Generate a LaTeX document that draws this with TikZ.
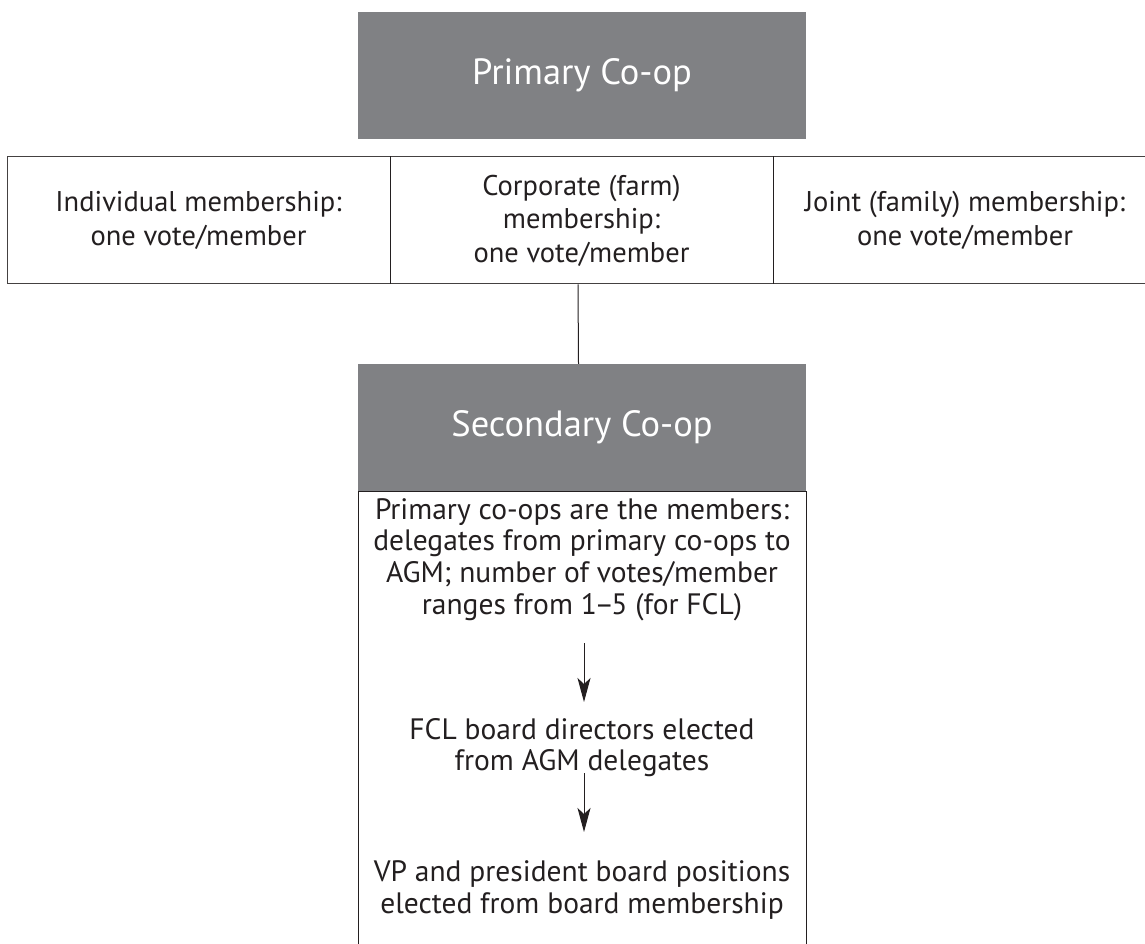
\documentclass[tikz,border=0pt]{standalone}
\usepackage{fontspec}
\setmainfont{PT Sans}
\usetikzlibrary{arrows.meta,calc}
\definecolor{boxgrey}{HTML}{808184}
\definecolor{ink}{HTML}{231F20}
\tikzset{
  titlebox/.style={fill=boxgrey, draw=none, minimum width=448pt, minimum height=127pt, inner sep=0pt,
    text=white, font=\fontsize{36.5}{42}\selectfont},
  cell/.style={draw=ink!85, line width=1pt, minimum height=127pt, inner sep=0pt, text=ink, align=center,
    font=\fontsize{28.5}{33.5}\selectfont},
  divider/.style={draw=ink, line width=1.8pt},
  bodytext/.style={inner sep=0pt, text=ink, align=center, font=\fontsize{29.5}{31.7}\selectfont},
  arr/.style={draw=ink, line width=1pt, -{Stealth[length=24pt,width=13pt,inset=6pt]}},
  conn/.style={draw=ink, line width=1pt}
}
\begin{document}
\begin{tikzpicture}[x=1pt,y=1pt]
\useasboundingbox (0,0) rectangle (1145,943);
\clip (0,0) rectangle (1145,943);
\fill[white] (0,0) rectangle (1145,943);
% Primary
\node[titlebox] (prim) at (582,867.5) {Primary Co-op};
% membership row
\node[cell, minimum width=383pt] (ind) at (198.5,722.5) {Individual membership:\\one vote/member};
\node[cell, minimum width=383pt] (corp) at (581.5,722.5) {Corporate (farm)\\membership:\\one vote/member};
\node[cell, minimum width=384pt] (joint) at (965,722.5) {Joint (family) membership:\\one vote/member};
\draw[divider] (ind.north east) -- (ind.south east);
\draw[divider] (corp.north east) -- (corp.south east);
% Secondary
\node[titlebox] (sec) at (582,515.5) {Secondary Co-op};
\draw[conn] ([xshift=-3.5pt]corp.south) -- ([xshift=-3.5pt]sec.north);
% body box
\node[draw=ink, line width=1pt, minimum width=448pt, minimum height=472pt, inner sep=0pt, anchor=north] (body) at (582,452) {};
\node[bodytext] (t1) at (582,383.5) {Primary co-ops are the members:\\delegates from primary co-ops to\\AGM; number of votes/member\\ranges from 1\kern-2.5pt--\kern-2.5pt5 (for FCL)};
\node[bodytext] (t2) at (582,195.5) {FCL board directors elected\\from AGM delegates};
\node[bodytext] (t3) at (582,53) {VP and president board positions\\elected from board membership};
\draw[arr] ([shift={(2,-83.5)}]t1.center) -- ([shift={(2,45.5)}]t2.center);
\draw[arr] ([shift={(2,-25.5)}]t2.center) -- ([shift={(2,58)}]t3.center);
\end{tikzpicture}
\end{document}
